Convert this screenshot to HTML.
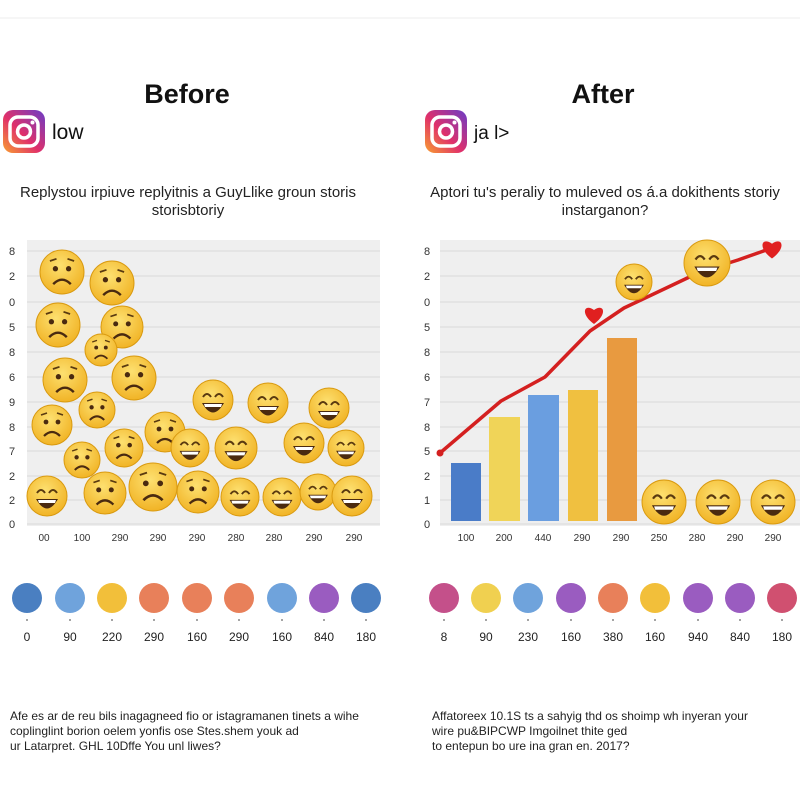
<!DOCTYPE html>
<html><head><meta charset="utf-8">
<style>
body{margin:0;background:#fff;width:800px;height:800px;overflow:hidden;font-family:"Liberation Sans",sans-serif;}
svg text{font-family:"Liberation Sans",sans-serif;}
</style></head><body>
<svg id="s" width="800" height="800" viewBox="0 0 800 800" xmlns="http://www.w3.org/2000/svg">
<defs>
<linearGradient id="ig" x1="0" y1="1" x2="1" y2="0">
<stop offset="0" stop-color="#f9a030"/><stop offset="0.45" stop-color="#e0306a"/><stop offset="1" stop-color="#6a3cc8"/>
</linearGradient>
<radialGradient id="emg" cx="0.45" cy="0.35" r="0.7"><stop offset="0" stop-color="#fde070"/><stop offset="1" stop-color="#f0b020"/></radialGradient>
</defs>
<rect width="800" height="800" fill="#fff"/>
<line x1="0" y1="18" x2="800" y2="18" stroke="#eee"/>
<text x="187" y="103" font-size="27" font-weight="bold" text-anchor="middle" fill="#111">Before</text>
<text x="603" y="103" font-size="27" font-weight="bold" text-anchor="middle" fill="#111">After</text>
<rect x="3" y="110" width="42" height="43" rx="10" fill="url(#ig)"/>
<rect x="10" y="117" width="28" height="29" rx="8" fill="none" stroke="#fff" stroke-width="3.5"/>
<circle cx="24" cy="131.5" r="6.5" fill="none" stroke="#fff" stroke-width="3.5"/><circle cx="32.5" cy="122.5" r="2" fill="#fff"/>
<text x="52" y="139" font-size="21" fill="#111">low</text>
<rect x="425" y="110" width="42" height="43" rx="10" fill="url(#ig)"/>
<rect x="432" y="117" width="28" height="29" rx="8" fill="none" stroke="#fff" stroke-width="3.5"/>
<circle cx="446" cy="131.5" r="6.5" fill="none" stroke="#fff" stroke-width="3.5"/><circle cx="454.5" cy="122.5" r="2" fill="#fff"/>
<text x="474" y="139" font-size="19" fill="#111">ja l&gt;</text>
<text x="188" y="197" font-size="15" text-anchor="middle" fill="#222">Replystou irpiuve replyitnis a GuyLlike groun storis</text>
<text x="188" y="215" font-size="15" text-anchor="middle" fill="#222">storisbtoriy</text>
<text x="605" y="197" font-size="15" text-anchor="middle" fill="#222">Aptori tu's peraliy to muleved os á.a dokithents storiy</text>
<text x="605" y="215" font-size="15" text-anchor="middle" fill="#222">instarganon?</text>
<rect x="27" y="240" width="353" height="286" fill="#efefef"/>
<rect x="440" y="240" width="360" height="286" fill="#efefef"/>
<g id="grid"></g>
<g id="bars">
<rect x="451" y="463" width="30" height="58" fill="#4a7cc8"/>
<rect x="489" y="417" width="31" height="104" fill="#f0d458"/>
<rect x="528" y="395" width="31" height="126" fill="#6a9ee0"/>
<rect x="568" y="390" width="30" height="131" fill="#f0c040"/>
<rect x="607" y="338" width="30" height="183" fill="#e89a40"/>
</g>
<polyline points="440,453 501,401 545,377 590,331 624,308 700,272 738,260 772,248" fill="none" stroke="#d42020" stroke-width="3.5" stroke-linejoin="round"/>
<circle cx="440" cy="453" r="3.5" fill="#d42020"/>
<g id="faces"></g>
<g id="dots"></g>
<text x="10" y="720" font-size="12" fill="#222">Afe es ar de reu bils inagagneed fio or istagramanen tinets a wihe</text>
<text x="10" y="735" font-size="12" fill="#222">coplinglint borion oelem yonfis ose Stes.shem youk ad</text>
<text x="10" y="750" font-size="12" fill="#222">ur Latarpret. GHL 10Dffe You unl liwes?</text>
<text x="432" y="720" font-size="12" fill="#222">Affatoreex 10.1S ts a sahyig thd os shoimp wh inyeran your</text>
<text x="432" y="735" font-size="12" fill="#222">wire pu&amp;BIPCWP Imgoilnet thite ged</text>
<text x="432" y="750" font-size="12" fill="#222">to entepun bo ure ina gran en. 2017?</text>
</svg>
<script>
const NS="http://www.w3.org/2000/svg";
function el(p,t,a,txt){const e=document.createElementNS(NS,t);for(const k in a)e.setAttribute(k,a[k]);if(txt!==undefined)e.textContent=txt;document.getElementById(p).appendChild(e);return e;}
const ys=[251,276,302,327,352,377,402,427,451,476,500,524];
const L=["8","2","0","5","8","6","9","8","7","2","2","0"],R=["8","2","0","5","8","6","7","8","5","2","1","0"];
ys.forEach((y,i)=>{el("grid","line",{x1:27,x2:380,y1:y,y2:y,stroke:"#d8d8d8"});el("grid","line",{x1:440,x2:800,y1:y,y2:y,stroke:"#d8d8d8"});
el("grid","text",{x:12,y:y+4,"font-size":11,"text-anchor":"middle",fill:"#333"},L[i]);
el("grid","text",{x:427,y:y+4,"font-size":11,"text-anchor":"middle",fill:"#333"},R[i]);});
const xl=[[44,"00"],[82,"100"],[120,"290"],[158,"290"],[197,"290"],[236,"280"],[274,"280"],[314,"290"],[354,"290"]];
xl.forEach(a=>el("grid","text",{x:a[0],y:541,"font-size":10,"text-anchor":"middle",fill:"#333"},a[1]));
const xr=[[466,"100"],[504,"200"],[543,"440"],[582,"290"],[621,"290"],[659,"250"],[697,"280"],[735,"290"],[773,"290"]];
xr.forEach(a=>el("grid","text",{x:a[0],y:541,"font-size":10,"text-anchor":"middle",fill:"#333"},a[1]));
function face(x,y,r,happy){
 el("faces","circle",{cx:x,cy:y,r:r,fill:"url(#emg)",stroke:"#d99a10","stroke-width":1});
 const s=r/20;
 if(happy){
  el("faces","path",{d:`M${x-10*s} ${y-3*s} q${4*s} ${-6*s} ${8*s} 0 M${x+2*s} ${y-3*s} q${4*s} ${-6*s} ${8*s} 0`,fill:"none",stroke:"#5a3a10","stroke-width":2*s});
  el("faces","path",{d:`M${x-11*s} ${y+3*s} Q${x} ${y+22*s} ${x+11*s} ${y+3*s} Z`,fill:"#4a2a10"});
  el("faces","path",{d:`M${x-9*s} ${y+4*s} L${x+9*s} ${y+4*s} L${x+8*s} ${y+7*s} L${x-8*s} ${y+7*s}Z`,fill:"#fff"});
 } else {
  el("faces","circle",{cx:x-6*s,cy:y-3*s,r:2.4*s,fill:"#4a2a10"});
  el("faces","circle",{cx:x+6*s,cy:y-3*s,r:2.4*s,fill:"#4a2a10"});
  el("faces","path",{d:`M${x-11*s} ${y-10*s} l${6*s} ${-2*s} M${x+11*s} ${y-10*s} l${-6*s} ${-2*s}`,stroke:"#5a3a10","stroke-width":1.6*s,fill:"none"});
  el("faces","path",{d:`M${x-8*s} ${y+11*s} Q${x} ${y+3*s} ${x+8*s} ${y+11*s}`,fill:"none",stroke:"#4a2a10","stroke-width":2.2*s});
 }
}
[[62,272,22,0],[112,283,22,0],[58,325,22,0],[122,327,21,0],[101,350,16,0],[65,380,22,0],[134,378,22,0],[97,410,18,0],[52,425,20,0],[82,460,18,0],[124,448,19,0],[165,432,20,0],[105,493,21,0],[153,487,24,0],[198,492,21,0],
 [213,400,20,1],[268,403,20,1],[329,408,20,1],[190,448,19,1],[236,448,21,1],[304,443,20,1],[346,448,18,1],[47,496,20,1],[240,497,19,1],[282,497,19,1],[318,492,18,1],[352,496,20,1],
 [634,282,18,1],[707,263,23,1],[664,502,22,1],[718,502,22,1],[773,502,22,1]].forEach(a=>face(...a));
function heart(x,y,s){el("faces","path",{d:`M${x} ${y+9*s} C${x-14*s} ${y-1*s} ${x-10*s} ${y-12*s} ${x} ${y-5*s} C${x+10*s} ${y-12*s} ${x+14*s} ${y-1*s} ${x} ${y+9*s}Z`,fill:"#e02020"});}
heart(594,315,1);heart(772,249,1.05);
const cl=["#4a7fc1","#6fa3dc","#f2bf3a","#e8805a","#e8805a","#e8805a","#6fa3dc","#9a5cc0","#4a7fc1"];
const cr=["#c4508a","#f0d050","#6fa3dc","#9a5cc0","#e8805a","#f2bf3a","#9a5cc0","#9a5cc0","#d05070"];
const ll=["0","90","220","290","160","290","160","840","180"],lr=["8","90","230","160","380","160","940","840","180"];
const xsl=[27,70,112,154,197,239,282,324,366],xsr=[444,486,528,571,613,655,698,740,782];
for(let i=0;i<9;i++){
 el("dots","circle",{cx:xsl[i],cy:598,r:15,fill:cl[i]});el("dots","circle",{cx:xsr[i],cy:598,r:15,fill:cr[i]});
 el("dots","circle",{cx:xsl[i],cy:620,r:1,fill:"#888"});el("dots","circle",{cx:xsr[i],cy:620,r:1,fill:"#888"});
 el("dots","text",{x:xsl[i],y:641,"font-size":12,"text-anchor":"middle",fill:"#222"},ll[i]);
 el("dots","text",{x:xsr[i],y:641,"font-size":12,"text-anchor":"middle",fill:"#222"},lr[i]);
}
</script>
</body></html>
